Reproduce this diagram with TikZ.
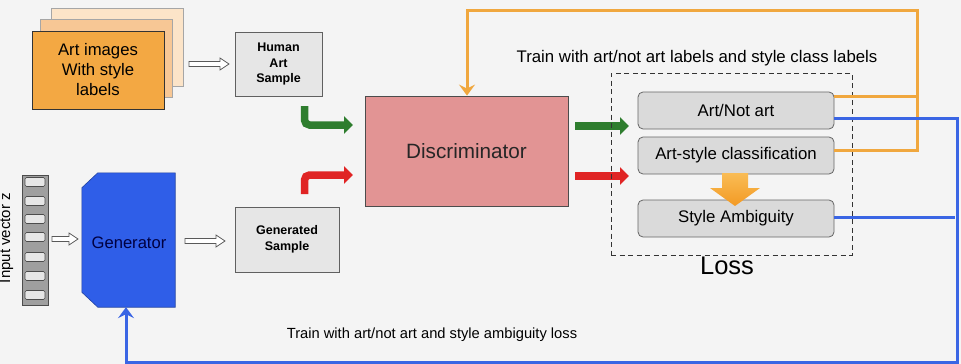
\documentclass[tikz,border=0pt]{standalone}
\usepackage{fontspec}
\setmainfont{Liberation Sans}
\usetikzlibrary{arrows.meta,calc}
\definecolor{bgc}{HTML}{F4F4F4}
\definecolor{orf}{HTML}{F3A843}
\definecolor{orm}{HTML}{F7C795}
\definecolor{orb}{HTML}{FCE4C8}
\definecolor{boxg}{HTML}{E6E6E6}
\definecolor{disc}{HTML}{E29494}
\definecolor{genb}{HTML}{2F5EE8}
\definecolor{oline}{HTML}{F0A73E}
\definecolor{bline}{HTML}{3A65E4}
\definecolor{grn}{HTML}{2E7D2E}
\definecolor{rd}{HTML}{E02424}
\definecolor{oatop}{HTML}{F9BC55}
\definecolor{oabot}{HTML}{F39A24}
\tikzset{
  stackbox/.style={draw=#1, line width=0.8pt, minimum width=132pt, minimum height=78pt, inner sep=0pt},
  samplebox/.style={draw=gray!75!black, fill=boxg, line width=0.8pt, inner sep=0pt, align=center, font=\bfseries\fontsize{12.5}{15.5}\selectfont},
  lossbox/.style={draw=gray!80!black, fill=boxg!95!black, line width=0.8pt, rounded corners=5pt, minimum width=196pt, minimum height=37pt, inner sep=0pt, font=\fontsize{16.8}{19}\selectfont},
  cell/.style={draw=black!70, fill=boxg, line width=0.6pt, rounded corners=1.5pt, minimum width=20pt, minimum height=9pt, inner sep=0pt},
  fatarrow/.style={line width=7.5pt, rounded corners=5pt, -{Triangle[length=9pt,width=17pt]}},
  olinestyle/.style={draw=oline, line width=3pt},
  blinestyle/.style={draw=bline, line width=3pt},
  pics/harrow/.style={code={\draw[draw=gray!70!black, fill=white, line width=0.8pt]
    (0,-2.5) -- (#1-9,-2.5) -- (#1-9,-6) -- (#1,0) -- (#1-9,6) -- (#1-9,2.5) -- (0,2.5) -- cycle;}}
}
\begin{document}
\begin{tikzpicture}[x=1pt,y=-1pt]
\fill[bgc] (0,0) rectangle (961,364);
\useasboundingbox (0,0) rectangle (961,364);

% art image stack
\node[stackbox=gray!70, fill=orb] (art3) at (117,47) {};
\node[stackbox=gray!70, fill=orm] (art2) at (106,58) {};
\node[stackbox=black!80, fill=orf, align=center, font=\fontsize{16.7}{20}\selectfont] (art1) at (98,70) {Art images\\With style\\labels};

% human art sample
\node[samplebox, minimum width=87pt, minimum height=64pt] (human) at (278.5,64) {Human\\Art\\Sample};
\pic at (189,64) {harrow=40};

% input vector
\node[draw=black!70, fill=gray!75, line width=0.8pt, minimum width=26pt, minimum height=130pt, inner sep=0pt] (zvec) at (35,240) {};
\foreach \yy [count=\i] in {182,201,219,237,257,276,295} {
  \node[cell] (c\i) at (35,\yy) {};
}
\node[rotate=90, inner sep=0pt, font=\fontsize{15}{17}\selectfont] (zlab) at (6.5,238) {Input vector z};
\pic at (52,239) {harrow=26};

% generator
\node[minimum width=93pt, minimum height=134pt, inner sep=0pt] (gen) at (128.5,240) {};
\filldraw[fill=genb, draw=genb!70!black, line width=0.6pt]
  ($(gen.north west)+(16,0)$) -- (gen.north east) -- (gen.south east)
  -- ($(gen.south west)+(16,0)$) -- ($(gen.south west)+(0,-15)$)
  -- ($(gen.north west)+(0,15)$) -- cycle;
\node[text=blue!25!black, font=\fontsize{16.6}{19}\selectfont] (gentxt) at (129,243) {Generator};
\pic at (185,241) {harrow=40};

% generated sample
\node[samplebox, minimum width=104pt, minimum height=65pt] (gsamp) at (287,239.5) {Generated\\Sample};

% discriminator
\node[draw=gray!60!black, fill=disc, line width=0.8pt, minimum width=203pt, minimum height=110pt, inner sep=0pt, font=\fontsize{20.7}{23}\selectfont, text=black!85] (disc) at (466.5,151) {Discriminator};

% bent input arrows
\coordinate (g0) at (304.5,106);
\coordinate (g1) at (353,125);
\coordinate (r0) at (304.5,194);
\coordinate (r1) at (353,175);
\draw[fatarrow, draw=grn] (g0) |- (g1);
\draw[fatarrow, draw=rd] (r0) |- (r1);

% output arrows
\coordinate (go0) at (575,126);
\coordinate (go1) at (629,126);
\coordinate (ro0) at (575,176);
\coordinate (ro1) at (629,176);
\draw[fatarrow, draw=grn] (go0) -- (go1);
\draw[fatarrow, draw=rd] (ro0) -- (ro1);

% loss region
\node[draw=black!80, line width=1pt, dash pattern=on 5pt off 3.5pt, minimum width=241pt, minimum height=182pt, inner sep=0pt] (lossbox) at (731.5,164) {};
\node[inner sep=0pt, font=\fontsize{25.5}{28}\selectfont] (losslab) at (727,266) {Loss};
\node[inner sep=0pt, font=\fontsize{16.8}{19}\selectfont] (ttop) at (697,58) {Train with art/not art labels and style class labels};
\node[lossbox] (an) at (736,110.5) {Art/Not art};
\node[lossbox] (as) at (736,155.5) {Art-style classification};
\node[lossbox] (sa) at (736,218.5) {Style Ambiguity};

% fat orange down arrow
\shade[top color=oatop, bottom color=oabot] (722,173) -- (748,173) -- (748,188) -- (760,188) -- (735,206) -- (710,188) -- (722,188) -- cycle;

% orange feedback
\coordinate (oR) at (917,10);
\coordinate (oL) at (467,10);
\draw[olinestyle] ($(an.north east)+(0,5)$) -- ++(83,0);
\draw[olinestyle, -{Stealth[length=11pt,width=16pt,inset=4pt]}] ($(as.east)+(0,-5.5)$) -| (oR) -- (oL) -- (oL |- disc.north);

% blue feedback
\coordinate (bR) at (957,362);
\coordinate (bL) at (126,362);
\draw[blinestyle] ($(sa.east)+(0,-1.5)$) -- ++(121,0);
\draw[blinestyle, -{Stealth[length=11pt,width=16pt,inset=4pt]}] ($(an.east)+(0,7.5)$) -| (bR) -- (bL) -- (bL |- gen.south);

\node[inner sep=0pt, font=\fontsize{14.7}{17}\selectfont] (tbot) at (432,335) {Train with art/not art and style ambiguity loss};
\end{tikzpicture}
\end{document}
